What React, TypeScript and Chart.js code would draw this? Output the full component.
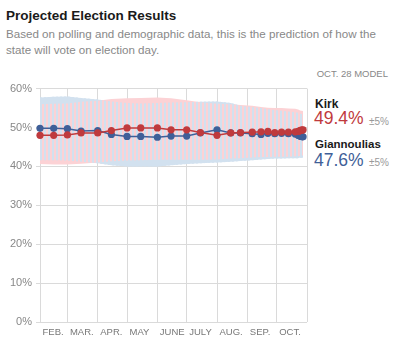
import React, { useEffect, useRef } from "react";
import { Chart, registerables } from "chart.js";

Chart.register(...registerables);

// Days counted from Feb. 1
const days = [0, 14, 28, 42, 59, 73, 89, 103, 120, 134, 150, 164, 181, 195, 205, 217, 226, 233, 240, 247, 254, 261, 264, 265, 266, 267, 268, 269];
const kirk = [48.0, 48.0, 48.1, 48.6, 48.6, 49.2, 49.9, 49.9, 49.9, 49.4, 49.4, 48.7, 48.0, 48.6, 48.7, 48.8, 48.9, 49.0, 48.7, 48.8, 48.8, 48.9, 49.0, 49.1, 49.2, 49.3, 49.3, 49.4];
const giannoulias = [49.8, 49.8, 49.7, 49.1, 49.2, 48.2, 47.7, 47.7, 47.5, 47.8, 47.8, 48.6, 49.4, 48.6, 48.6, 48.4, 48.2, 48.5, 48.4, 48.5, 48.4, 48.3, 48.0, 47.9, 47.8, 47.7, 47.6, 47.6];
const kirkHigh = [56.0, 56.1, 56.2, 56.6, 56.9, 57.3, 57.5, 57.6, 57.7, 57.5, 57.0, 56.5, 56.1, 56.0, 55.8, 55.6, 55.3, 55.1, 55.0, 55.0, 54.9, 54.8, 54.6, 54.5, 54.4, 54.3, 54.3, 54.2];
const kirkLow = [40.6, 40.5, 40.5, 40.7, 41.0, 41.3, 41.5, 41.6, 41.7, 41.7, 41.7, 41.7, 41.8, 42.0, 42.1, 42.3, 42.4, 42.4, 42.5, 42.5, 42.5, 42.6, 42.6, 42.7, 42.7, 42.8, 42.8, 42.8];
const giannHigh = [57.7, 57.9, 58.0, 57.6, 57.2, 56.7, 56.3, 56.2, 56.3, 56.4, 56.5, 56.6, 56.7, 56.3, 55.6, 55.3, 55.0, 54.7, 54.5, 54.3, 54.1, 53.9, 53.8, 53.7, 53.6, 53.5, 53.5, 53.4];
const giannLow = [41.6, 41.6, 41.5, 41.2, 40.8, 40.3, 40.0, 40.0, 40.0, 40.3, 40.6, 40.8, 41.0, 41.2, 41.4, 41.6, 41.8, 41.9, 42.0, 42.0, 42.1, 42.1, 42.1, 42.2, 42.2, 42.2, 42.2, 42.2];

const monthStarts = [0, 28, 59, 89, 120, 150, 181, 212, 242, 273];
const monthLabels = ["FEB.", "MAR.", "APR.", "MAY", "JUNE", "JULY", "AUG.", "SEP.", "OCT.", ""];
const yTicks = [0, 10, 20, 30, 40, 50, 60];

const RED = "#bf3a3d";
const BLUE = "#3f5f98";
const BAND_BLUE = "#d2e1ef";
const BAND_PINK = "#fcd2d5";

const pts = (vals: number[]) => vals.map((v, i) => ({ x: days[i], y: v }));

function App() {
  const ref = useRef<HTMLCanvasElement | null>(null);

  useEffect(() => {
    const canvas = ref.current;
    if (!canvas) return;
    const pc = document.createElement("canvas");
    pc.width = 4;
    pc.height = 4;
    const pctx = pc.getContext("2d")!;
    pctx.fillStyle = BAND_BLUE;
    pctx.fillRect(0, 0, 2, 4);
    const ctx = canvas.getContext("2d")!;
    const stripes = ctx.createPattern(pc, "repeat");

    const chart = new Chart(canvas, {
      type: "line",
      data: {
        datasets: [
          { data: pts(giannHigh), fill: "+1", backgroundColor: BAND_BLUE, borderWidth: 0, pointRadius: 0, order: 10 },
          { data: pts(giannLow), fill: false, borderWidth: 0, pointRadius: 0, order: 10 },
          { data: pts(kirkHigh), fill: "+1", backgroundColor: BAND_PINK, borderWidth: 0, pointRadius: 0, order: 9 },
          { data: pts(kirkLow), fill: false, borderWidth: 0, pointRadius: 0, order: 9 },
          { data: pts(giannHigh), fill: 1, backgroundColor: stripes as any, borderWidth: 0, pointRadius: 0, order: 8 },
          {
            label: "Giannoulias",
            data: pts(giannoulias),
            borderColor: BLUE,
            backgroundColor: BLUE,
            pointBackgroundColor: BLUE,
            borderWidth: 1.5,
            pointRadius: 3.6,
            pointBorderWidth: 0,
            fill: false,
            clip: false as any,
            order: 2,
          },
          {
            label: "Kirk",
            data: pts(kirk),
            borderColor: RED,
            backgroundColor: RED,
            pointBackgroundColor: RED,
            borderWidth: 1.5,
            pointRadius: 3.6,
            pointBorderWidth: 0,
            fill: false,
            clip: false as any,
            order: 1,
          },
        ],
      },
      options: {
        animation: false,
        responsive: false,
        events: [],
        layout: { padding: { top: 8, right: 3, left: 0, bottom: 0 } },
        plugins: { legend: { display: false }, tooltip: { enabled: false } },
        elements: { line: { tension: 0 } },
        scales: {
          x: {
            type: "linear",
            position: "bottom",
            min: 0,
            max: 273,
            grid: { color: "#dadada", drawTicks: false, lineWidth: 1 },
            border: { display: false },
            ticks: {
              padding: 5,
              align: "start",
              labelOffset: 2.5,
              maxRotation: 0,
              autoSkip: false,
              color: "#777",
              font: { size: 9.5, family: "'Liberation Sans', Arial, sans-serif" },
              callback: (_v: any, i: number) => monthLabels[i],
            },
            afterBuildTicks: (s: any) => {
              s.ticks = monthStarts.map((v) => ({ value: v }));
            },
            afterFit: (s: any) => {
              s.height = 24;
            },
          },
          y: {
            min: 0,
            max: 60,
            grid: { color: "#dadada", tickLength: 4, tickColor: "#dadada" },
            border: { display: false },
            ticks: {
              padding: 4,
              color: "#888",
              font: { size: 11, family: "'Liberation Sans', Arial, sans-serif" },
              callback: (v: any) => v + "%",
            },
            afterBuildTicks: (s: any) => {
              s.ticks = yTicks.map((v) => ({ value: v }));
            },
            afterFit: (s: any) => {
              s.width = 40;
            },
          },
        },
      },
    } as any);
    return () => chart.destroy();
  }, []);

  const font = "'Liberation Sans', Arial, Helvetica, sans-serif";
  const abs = (extra: React.CSSProperties): React.CSSProperties => ({
    position: "absolute",
    whiteSpace: "nowrap",
    lineHeight: 1,
    fontFamily: font,
    ...extra,
  });

  return (
    <div
      style={{
        position: "absolute",
        left: 0,
        top: 0,
        width: 395,
        height: 351,
        overflow: "hidden",
        background: "#fff",
        fontFamily: font,
      }}
    >
      <div style={abs({ left: 6, top: 8.5, fontSize: 13.5, fontWeight: "bold", color: "#1a1a1a" })}>
        Projected Election Results
      </div>
      <div style={abs({ left: 6, top: 26, fontSize: 11.6, lineHeight: "15.5px", color: "#888" })}>
        Based on polling and demographic data, this is the prediction of how the
        <br />
        state will vote on election day.
      </div>
      <div style={abs({ right: 7, top: 69, fontSize: 9.5, color: "#888" })}>OCT. 28 MODEL</div>

      <canvas
        ref={ref}
        width={312}
        height={268}
        style={{ position: "absolute", left: 0, top: 78, width: 312, height: 268 }}
      />

      <div style={abs({ left: 315, top: 98.3, fontSize: 12, fontWeight: "bold", color: "#1a1a1a" })}>Kirk</div>
      <div style={abs({ left: 314, top: 110.3, fontSize: 17.5, color: RED })}>49.4%</div>
      <div style={abs({ left: 369, top: 116.5, fontSize: 10, color: "#999" })}>±5%</div>
      <div style={abs({ left: 315, top: 139, fontSize: 11.5, fontWeight: "bold", color: "#1a1a1a" })}>Giannoulias</div>
      <div style={abs({ left: 314, top: 152, fontSize: 17.5, color: BLUE })}>47.6%</div>
      <div style={abs({ left: 369, top: 158, fontSize: 10, color: "#999" })}>±5%</div>
    </div>
  );
}

export default App;
